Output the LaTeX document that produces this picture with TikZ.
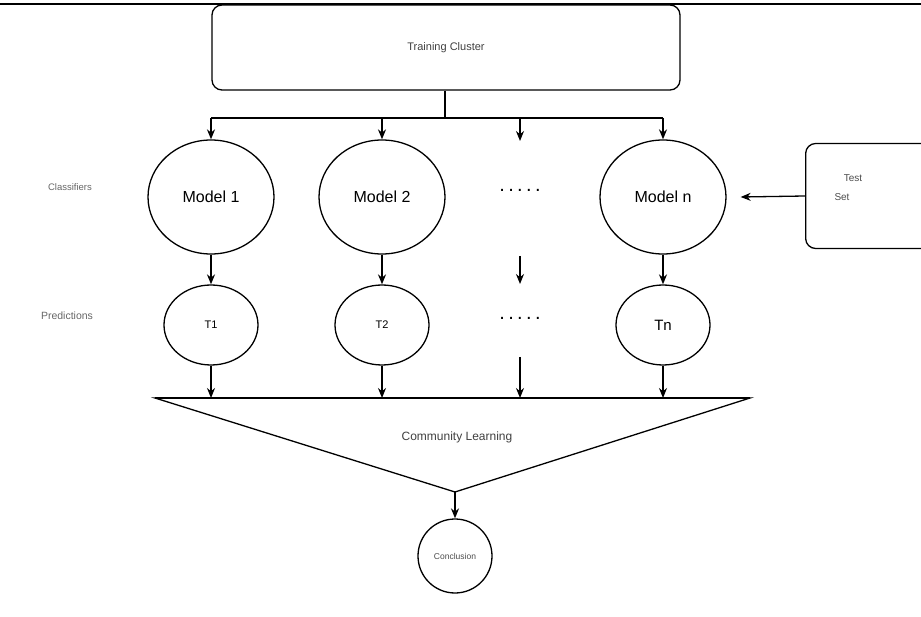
\documentclass[tikz,border=0pt]{standalone}
\usepackage{fontspec}
\setmainfont{Liberation Sans}
\usetikzlibrary{positioning, arrows.meta, shapes.geometric}
\tikzset{
	>={Stealth[length=10pt, width=8pt]}, % puntas de flecha rellenas
	line width=1.3pt, % grosor de las lineas
	box/.style={draw, rounded corners=10pt, inner sep=0pt}, % cajas redondeadas
	model/.style={draw, ellipse, minimum width=126pt, minimum height=114pt, inner sep=0pt, font=\fontsize{16}{18}\selectfont}, % clasificadores
	pred/.style={draw, ellipse, minimum width=94pt, minimum height=80pt, inner sep=0pt, font=\fontsize{11}{13}\selectfont}, % predicciones
	side/.style={text=black!60, font=\fontsize{9.5}{11}\selectfont}, % etiquetas laterales
	dots/.style={font=\fontsize{20}{22}\selectfont} % puntos suspensivos
}

\begin{document}
\begin{tikzpicture}[x=1pt, y=-1pt, line width=1.3pt]
	\useasboundingbox (0,0) rectangle (921,617);
	\draw[line width=2pt] (0,4) -- (921,4);
	% caja superior
	\node[box, minimum width=468pt, minimum height=85pt, text=black!75, font=\fontsize{11}{13}\selectfont] (train) at (446,47.5) {Training Cluster};
	\node[box, minimum width=130pt, minimum height=105pt, anchor=west] (test) at (805,196) {};
	\node[text=black!70, font=\fontsize{10}{12}\selectfont] (testa) at (853,178) {Test};
	\node[text=black!70, font=\fontsize{10}{12}\selectfont] (testb) at (842,197) {Set};
	% modelos
	\node[model] (m1) at (211,197) {Model 1};
	\node[model, right of=m1, node distance=171pt] (m2) {Model 2};
	\node[dots] (d1) at (520,190) {.\,.\,.\,.\,.};
	\node[model] (mn) at (663,197) {Model n};
	% predicciones
	\node[pred] (t1) at (211,325) {T1};
	\node[pred, right of=t1, node distance=171pt] (t2) {T2};
	\node[dots] (d2) at (520,318) {.\,.\,.\,.\,.};
	\node[pred, font=\fontsize{15}{17}\selectfont] (tn) at (663,325) {Tn};
	\node[side] (cls) at (70,187) {Classifiers};
	\node[side, font=\fontsize{10.5}{12}\selectfont] (prd) at (67,316) {Predictions};
	% triangulo
	\coordinate (tl) at (155,398);
	\coordinate (tr) at (750,398);
	\coordinate (tap) at (455,492);
	\draw (tl) -- (tr) -- (tap) -- cycle;
	\draw[line width=2.2pt] (tl) -- (tr);
	\node[text=black!75, font=\fontsize{12}{14}\selectfont] (comm) at (457,437) {Community Learning};
	\node[draw, circle, minimum size=74pt, inner sep=0pt, text=black!70, font=\fontsize{8.5}{10}\selectfont] (conc) at (455,556) {Conclusion};
	% conexiones
	\coordinate (bus) at (445,118);
	\coordinate (bl) at (211,118);
	\coordinate (br) at (663,118);
	\draw (train.south -| bus) -- (bus);
	\draw (bl) -- (br);
	\draw[->] (bl) -- (m1.north);
	\draw[->] (m2.north |- bus) -- (m2.north);
	\draw[->] (520,118) -- (520,141);
	\draw[->] (br) -- (mn.north);
	\draw[->] (test.west) -- ([xshift=14pt]mn.east);
	\draw[->] (m1.south) -- (t1.north);
	\draw[->] (m2.south) -- (t2.north);
	\draw[->] (520,256) -- (520,284);
	\draw[->] (mn.south) -- (tn.north);
	\draw[->] (t1.south) -- (t1.south |- tl);
	\draw[->] (t2.south) -- (t2.south |- tl);
	\draw[->] (520,357) -- (520,398);
	\draw[->] (tn.south) -- (tn.south |- tl);
	\draw[->] (tap) -- (conc.north);
\end{tikzpicture}
\end{document}
